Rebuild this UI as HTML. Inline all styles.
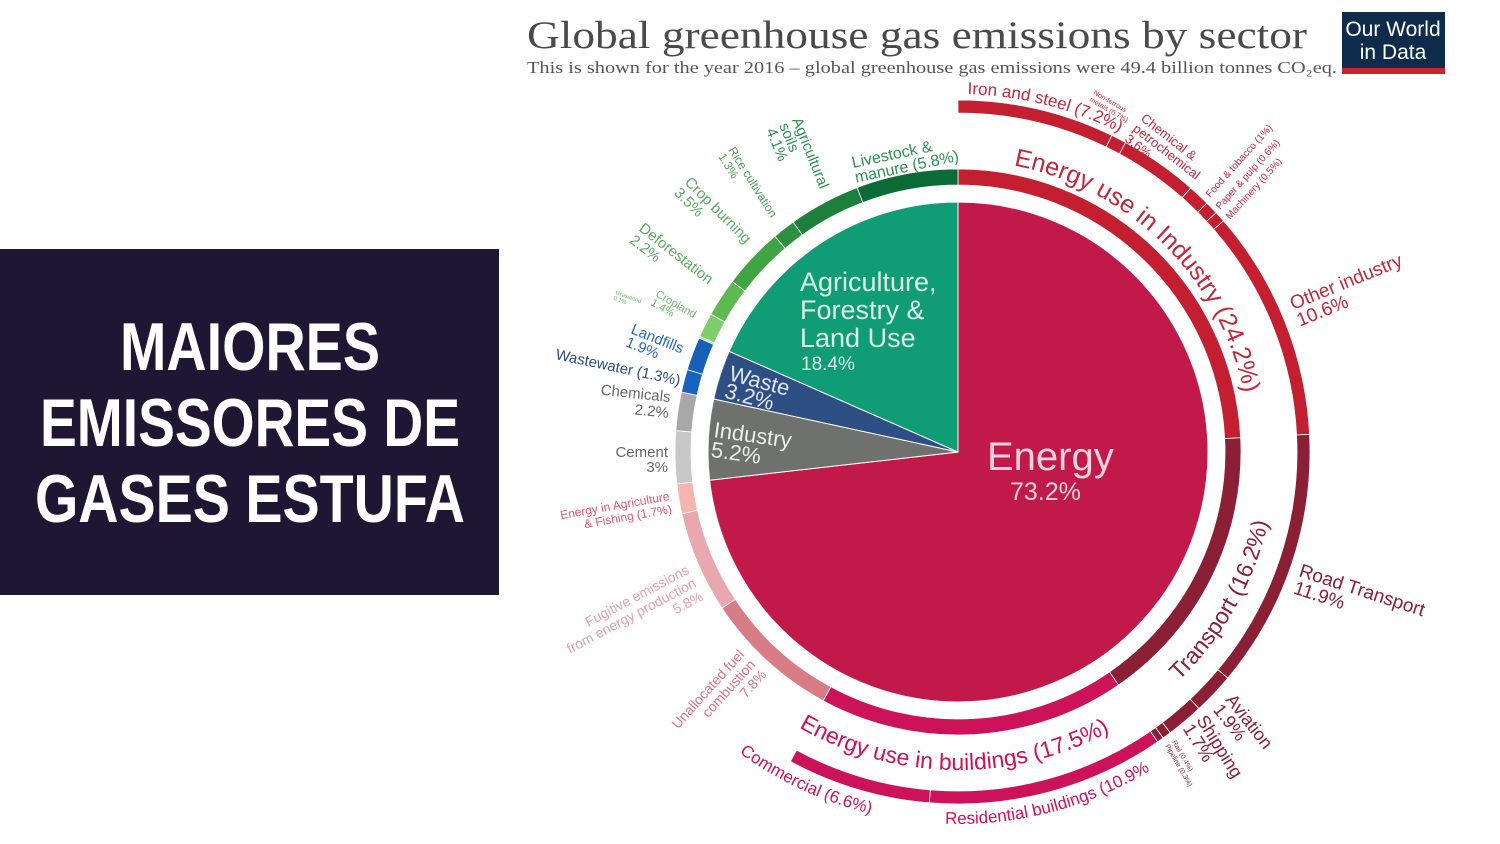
<!DOCTYPE html>
<html><head><meta charset="utf-8"><style>
html,body{margin:0;padding:0;background:#fff;}
body{width:1500px;height:844px;overflow:hidden;position:relative;font-family:"Liberation Sans",sans-serif;}
svg{position:absolute;left:0;top:0;}
</style></head><body>
<svg id="chart" width="1500" height="844" viewBox="0 0 1500 844">
  <rect x="0" y="249" width="499" height="346" fill="#1f1634"/>
  <g fill="#fff" font-family="'Liberation Sans',sans-serif" font-weight="bold" font-size="68">
    <text x="120" y="370" textLength="260" lengthAdjust="spacingAndGlyphs">MAIORES</text>
    <text x="40" y="446" textLength="420" lengthAdjust="spacingAndGlyphs">EMISSORES DE</text>
    <text x="35" y="522" textLength="430" lengthAdjust="spacingAndGlyphs">GASES ESTUFA</text>
  </g>
  <text x="527" y="48" font-family="'Liberation Serif',serif" font-size="39" fill="#4a4a4a" textLength="780" lengthAdjust="spacingAndGlyphs">Global greenhouse gas emissions by sector</text>
  <text x="527" y="73" font-family="'Liberation Serif',serif" font-size="17" fill="#555" textLength="810" lengthAdjust="spacingAndGlyphs">This is shown for the year 2016 – global greenhouse gas emissions were 49.4 billion tonnes CO₂eq.</text>
  <g>
    <rect x="1342" y="12" width="103" height="62" fill="#0f2b4c"/>
    <rect x="1342" y="68" width="103" height="6" fill="#c8252f"/>
    <text x="1393" y="36" text-anchor="middle" fill="#fff" font-size="21">Our World</text>
    <text x="1393" y="59" text-anchor="middle" fill="#fff" font-size="21">in Data</text>
  </g>
  <g id="marks"></g>
  <g id="labels" font-family="'Liberation Sans',sans-serif"></g>
</svg>
<script>
const sectorNames = ['Energy','Industry','Waste','Agriculture, Forestry & Land Use'];
const sectorValues = [73.2, 5.2, 3.2, 18.4];
const sectorColors = ['#c2194b','#6e716e','#2e4f84','#109c74'];

const ring1Names = ['Energy use in Industry','Transport','Energy use in buildings','Unallocated fuel combustion','Fugitive emissions','Energy in Agriculture & Fishing','Cement','Chemicals','Wastewater','Landfills','Grassland','Cropland','Deforestation','Crop burning','Rice cultivation','Agricultural soils','Livestock & manure'];
const ring1Values = [24.2, 16.2, 17.5, 7.8, 5.8, 1.7, 3, 2.2, 1.3, 1.9, 0.1, 1.4, 2.2, 3.5, 1.3, 4.1, 5.8];
const ring1Colors = ['#c41f30','#8b1f35','#cc1258','#d87c85','#e9a8b0','#f5b4ad','#c7c7c7','#a8a8a8','#1a62bf','#1660b8','#a2dc8c','#7ece6c','#5db950','#3fa444','#2b903f','#1c7f3b','#0b6b36'];

const ring2Names = ['Iron and steel','Non-ferrous metals','Chemical & petrochemical','Food & tobacco','Paper & pulp','Machinery','Other industry','Road Transport','Aviation','Shipping','Rail','Pipeline','Residential buildings','Commercial'];
const ring2Values = [7.2, 0.7, 3.6, 1, 0.6, 0.5, 10.6, 11.9, 1.9, 1.7, 0.4, 0.3, 10.9, 6.6];
const ring2Colors = ['#c41f30','#c41f30','#c41f30','#c41f30','#c41f30','#c41f30','#c41f30','#8b1f35','#8b1f35','#8b1f35','#8b1f35','#8b1f35','#cc1258','#cc1258'];

const CX = 958, CY = 452;
const NS = 'http://www.w3.org/2000/svg';
function ang(pct){ return pct / 100 * 2 * Math.PI; }
function pt(r, a){ return [CX + r * Math.sin(a), CY - r * Math.cos(a)]; }
function sector(r0, r1, a0, a1){
  const large = (a1 - a0) > Math.PI ? 1 : 0;
  const p1 = pt(r1, a0), p2 = pt(r1, a1);
  if (r0 === 0) return `M${CX},${CY}L${p1[0]},${p1[1]}A${r1},${r1} 0 ${large} 1 ${p2[0]},${p2[1]}Z`;
  const p3 = pt(r0, a1), p4 = pt(r0, a0);
  return `M${p1[0]},${p1[1]}A${r1},${r1} 0 ${large} 1 ${p2[0]},${p2[1]}L${p3[0]},${p3[1]}A${r0},${r0} 0 ${large} 0 ${p4[0]},${p4[1]}Z`;
}
const marks = document.getElementById('marks');
function drawRing(values, colors, names, r0, r1, prefix, start){
  let cum = start;
  values.forEach((v, i) => {
    const p = document.createElementNS(NS, 'path');
    p.setAttribute('d', sector(r0, r1, ang(cum), ang(cum + v)));
    p.setAttribute('fill', colors[i]);
    p.setAttribute('stroke', '#fff');
    p.setAttribute('stroke-width', r0 === 0 ? '1' : '0.8');
    
    
    marks.appendChild(p);
    cum += v;
  });
}
drawRing(sectorValues, sectorColors, sectorNames, 0, 250, 'pie-slice', 0);
drawRing(ring1Values, ring1Colors, ring1Names, 267, 283, 'ring-segment', 0);
drawRing(ring2Values, ring2Colors, ring2Names, 339, 352, 'outer-segment', 0);

const labels = document.getElementById('labels');
const defs = document.createElementNS(NS, 'defs');
labels.appendChild(defs);
let pid = 0;
function arcLabel(text, r, d0, d1, size, color, name){
  const a0 = d0 * Math.PI / 180, a1 = d1 * Math.PI / 180;
  const p1 = pt(r, a0), p2 = pt(r, a1);
  const sweep = d1 > d0 ? 1 : 0;
  const path = document.createElementNS(NS, 'path');
  const id = 'lp' + (pid++);
  path.setAttribute('id', id);
  path.setAttribute('d', `M${p1[0]},${p1[1]}A${r},${r} 0 0 ${sweep} ${p2[0]},${p2[1]}`);
  defs.appendChild(path);
  const t = document.createElementNS(NS, 'text');
  t.setAttribute('font-size', size);
  t.setAttribute('fill', color);
  
  
  const tp = document.createElementNS(NS, 'textPath');
  tp.setAttribute('href', '#' + id);
  tp.textContent = text;
  t.appendChild(tp);
  labels.appendChild(t);
}
arcLabel('Energy use in Industry (24.2%)', 292, 11, 92, 25, '#c0283a', 'label-energy-industry');
arcLabel('Transport (16.2%)', 318, 136, 88, 23, '#8b1f35', 'label-transport');
arcLabel('Energy use in buildings (17.5%)', 318, 210, 140, 23, '#cc1258', 'label-buildings');
arcLabel('Iron and steel (7.2%)', 358, 1.5, 28, 17, '#c0283a', 'label-iron-steel');
arcLabel('Commercial (6.6%)', 372, 216, 180, 17, '#cc1258', 'label-commercial');
arcLabel('Residential buildings (10.9%)', 372, 182, 150, 17, '#cc1258', 'label-residential');

function txt(lines, x, y, size, color, rot, anchor, name, lh){
  const t = document.createElementNS(NS, 'text');
  t.setAttribute('x', x); t.setAttribute('y', y);
  t.setAttribute('font-size', size); t.setAttribute('fill', color);
  if (anchor) t.setAttribute('text-anchor', anchor);
  if (rot) t.setAttribute('transform', `rotate(${rot} ${x} ${y})`);
  
  
  lines.forEach((l, i) => {
    const s = document.createElementNS(NS, 'tspan');
    s.setAttribute('x', x);
    s.setAttribute('dy', i === 0 ? 0 : (lh || size * 1.05));
    s.textContent = l;
    t.appendChild(s);
  });
  labels.appendChild(t);
}
txt(['Energy'], 987, 470, 40, '#f6d3dd', 0, null, 'label-energy');
txt(['73.2%'], 1010, 500, 25, '#f6d3dd', 0, null, 'label-energy-value');
txt(['Agriculture,','Forestry &','Land Use'], 800, 291, 27, '#d8f2e8', 0, null, 'label-agriculture', 28);
txt(['18.4%'], 801, 370, 19, '#d8f2e8', 0, null, 'label-agriculture-value');
txt(['Waste','3.2%'], 728, 380, 22, '#dfe6f2', 15, null, 'label-waste', 18);
txt(['Industry','5.2%'], 713, 437, 22, '#eeeeee', 8, null, 'label-industry', 20);
const red = '#c0283a', maroon = '#8b1f35', grn = '#2f8f50';
txt(['Non-ferrous','metals (0.7%)'], 1093, 94, 7, red, 30, null, 'label-non-ferrous', 8);
txt(['Chemical &','petrochemical','3.6%'], 1140, 120, 13, red, 38, null, 'label-chemical', 13);
txt(['Food & tobacco (1%)'], 1210, 198, 10, red, -48, null, 'label-food', 11);
txt(['Paper & pulp (0.6%)'], 1220, 210, 10, red, -48, null, 'label-paper', 11);
txt(['Machinery (0.5%)'], 1230, 220, 10, red, -48, null, 'label-machinery', 11);
txt(['Other industry','10.6%'], 1293, 310, 19, red, -22, null, 'label-other-industry', 18);
txt(['Road Transport','11.9%'], 1298, 576, 19, maroon, 18, null, 'label-road', 18);
txt(['Aviation','1.9%'], 1225, 700, 18, maroon, 52, null, 'label-aviation', 16);
txt(['Shipping','1.7%'], 1196, 720, 18, maroon, 58, null, 'label-shipping', 16);
txt(['Rail (0.4%)','Pipeline (0.3%)'], 1172, 742, 7, maroon, 60, null, 'label-rail-pipeline', 8);
txt(['Livestock &','manure (5.8%)'], 853, 168, 16, grn, -12, null, 'label-livestock', 15);
txt(['Agricultural','soils','4.1%'], 792, 120, 15, grn, 68, null, 'label-ag-soils', 14);
txt(['Rice cultivation','1.3%'], 728, 150, 12, '#4a9a55', 58, null, 'label-rice', 12);
txt(['Crop burning','3.5%'], 684, 183, 15, '#5aa860', 45, null, 'label-crop-burning', 15);
txt(['Deforestation','2.2%'], 638, 230, 15, '#5aa860', 38, null, 'label-deforestation', 15);
txt(['Cropland','1.4%'], 655, 296, 11, '#6cb46c', 30, null, 'label-cropland', 10);
txt(['Grassland','0.1%'], 615, 294, 6, '#6cb46c', 20, null, 'label-grassland', 6);
txt(['Landfills','1.9%'], 630, 333, 15, '#2a68b8', 22, null, 'label-landfills', 14);
txt(['Wastewater (1.3%)'], 555, 359, 15, '#2b4d80', 12, null, 'label-wastewater');
txt(['Chemicals','2.2%'], 670, 402, 15, '#666', 6, 'end', 'label-chemicals', 16);
txt(['Cement','3%'], 668, 457, 15, '#666', 0, 'end', 'label-cement', 15);
txt(['Energy in Agriculture','& Fishing (1.7%)'], 670, 500, 12, '#d85a72', -10, 'end', 'label-energy-agri', 13);
txt(['Fugitive emissions','from energy production','5.8%'], 690, 573, 14, '#e3a0aa', -28, 'end', 'label-fugitive', 15);
txt(['Unallocated fuel','combustion','7.8%'], 745, 655, 14, '#d77480', -48, 'end', 'label-unallocated', 15);
</script>
</body></html>
